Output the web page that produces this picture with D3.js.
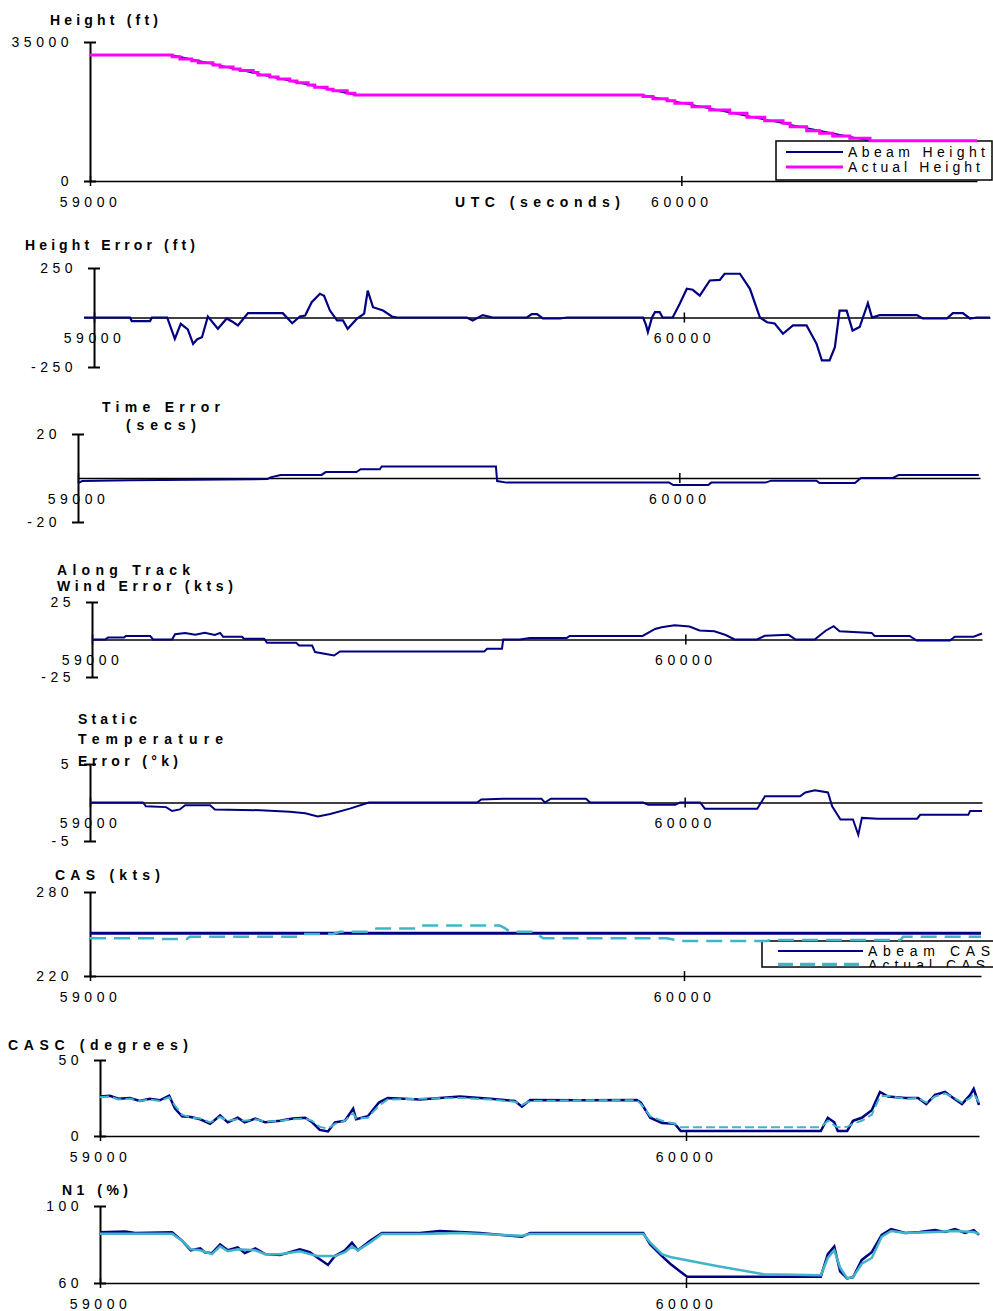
<!DOCTYPE html>
<html>
<head>
<meta charset="utf-8">
<title>Abeam vs Actual - flight trial</title>
<style type="text/css">
    body { margin: 0; background: #fff; }
    svg { display: block; }
    text { font-family: "Liberation Sans", Arial, Helvetica, sans-serif; fill: #000; }
    .tick text { font-size: 14px; letter-spacing: 4.5px; }
    .title { font-size: 14px; font-weight: bold; }
    .legend text { font-size: 14px; }
</style>
</head>
<body>
<script src="https://d3js.org/d3.v7.min.js"></script>
<script type="text/javascript">

var xTicks = [59000, 60000];

// Height (ft)
var heightTime = [59000, 59139, 59152, 59172, 59183, 59208, 59220, 59242, 59254, 59276, 59284, 59304, 59318, 59338, 59350, 59369, 59380, 59401, 59411, 59435, 59448, 59935, 59952, 59976, 59989, 60018, 60048, 60082, 60111, 60141, 60172, 60184, 60212, 60234, 60256, 60285, 60319, 60500];
var actualHeight = [31700, 31300, 30700, 30300, 29800, 29200, 28700, 28200, 27800, 27300, 26700, 26200, 25700, 25200, 24750, 24150, 23600, 23100, 22750, 22100, 21650, 21250, 20700, 20200, 19550, 18700, 17900, 17050, 16050, 15200, 14550, 13650, 12650, 12000, 11350, 10750, 10150, 10150];
var abeamHeightTime = [59000, 59139, 59448, 59935, 60319, 60500];
var abeamHeight = [31700, 31700, 21650, 21650, 10150, 10150];

// Height Error (ft)
var hErrTime = [58983, 59061, 59064, 59095, 59098, 59124, 59137, 59147, 59159, 59168,
    59175, 59183, 59193, 59210, 59225, 59234, 59244, 59261, 59320, 59336,
    59349, 59358, 59369, 59383, 59390, 59400, 59412, 59422, 59430, 59446,
    59458, 59464, 59473, 59490, 59505, 59514, 59632, 59642, 59659, 59676,
    59734, 59742, 59751, 59761, 59790, 59802, 59931, 59936, 59939, 59946,
    59951, 59959, 59964, 59981, 59993, 60005, 60015, 60027, 60044, 60061,
    60069, 60095, 60112, 60129, 60141, 60154, 60168, 60185, 60208, 60225,
    60234, 60247, 60256, 60264, 60276, 60286, 60298, 60312, 60319, 60332,
    60395, 60405, 60446, 60456, 60473, 60485, 60497, 60519];
var heightError = [0, 0, -18, -18, 0, 0, -108, -32, -60, -133,
    -110, -100, 5, -57, -5, -20, -40, 22, 22, -29,
    5, 10, 77, 120, 110, 35, -15, -15, -57, -5,
    20, 136, 52, 35, 5, 0, 0, -15, 12, 0,
    0, 17, 17, -5, -5, 0, 0, -40, -74, 0,
    27, 27, 0, 0, 69, 145, 140, 111, 187, 190,
    221, 221, 145, 0, -24, -30, -82, -40, -40, -133,
    -217, -217, -150, 35, 35, -66, -48, 72, 0, 12,
    12, -5, -5, 22, 22, -5, 0, 0];

// Time Error (secs)
var tErrTime = [59000, 59007, 59087, 59315, 59320, 59337, 59405, 59412, 59463, 59470, 59502, 59505, 59695, 59697, 59713, 59983, 59990, 60048, 60053, 60143, 60153, 60228, 60233, 60292, 60302, 60355, 60365, 60498];
var timeError = [-2.3, -1.4, -1, -0.5, 0.3, 1.4, 1.4, 2.7, 2.7, 4, 4, 5.2, 5.2, -1.4, -2.1, -2.1, -3.2, -3.2, -2.1, -2.1, -1.2, -1.2, -2.3, -2.3, 0, 0, 1.4, 1.4];

// Along Track Wind Error (kts)
var windTime = [59000, 59022, 59027, 59054, 59057, 59098, 59103, 59135, 59140, 59157,
    59174, 59190, 59207, 59216, 59221, 59253, 59256, 59290, 59295, 59344,
    59349, 59371, 59376, 59408, 59418, 59661, 59666, 59691, 59693, 59721,
    59738, 59800, 59805, 59928, 59949, 59960, 59982, 60007, 60024, 60049,
    60068, 60083, 60121, 60134, 60174, 60186, 60218, 60237, 60250, 60260,
    60314, 60319, 60378, 60390, 60446, 60454, 60486, 60500];
var windError = [0, 0, 1.3, 1.3, 2.4, 2.4, 0, 0, 3.5, 4.4,
    3.2, 4.5, 3, 4.4, 1.8, 1.8, 0.5, 0.5, -2.2, -2.2,
    -4, -4, -8.4, -10.7, -8, -8, -6.2, -6.2, 0, 0,
    1, 1, 2.4, 2.4, 7, 8.2, 9.5, 8.7, 6, 5.5,
    3, 0, 0, 2.5, 3.1, 0, 0, 6, 8.9, 5.5,
    4.4, 2.4, 2.4, -0.7, -0.7, 1.8, 1.8, 4];

// Static Temperature Error (K)
var tempTime = [59000, 59089, 59094, 59128, 59138, 59151, 59160, 59202, 59210, 59286,
    59336, 59362, 59383, 59404, 59437, 59469, 59651, 59658, 59695, 59759,
    59765, 59775, 59834, 59841, 59930, 59939, 59984, 59992, 60026, 60034,
    60122, 60135, 60194, 60203, 60219, 60241, 60248, 60262, 60283, 60292,
    60298, 60325, 60391, 60396, 60477, 60480, 60500];
var tempError = [0, 0, -0.5, -0.6, -1.1, -0.9, -0.35, -0.35, -0.9, -1,
    -1.2, -1.4, -1.8, -1.5, -0.8, 0, 0, 0.4, 0.5, 0.5,
    0, 0.5, 0.5, 0, 0, -0.3, -0.3, 0, 0, -0.8,
    -0.8, 0.8, 0.8, 1.3, 1.6, 1.3, -0.5, -2.2, -2.2, -4.2,
    -2, -2.1, -2.1, -1.6, -1.6, -1.1, -1.1];

// CAS (kts)
var abeamCasTime = [59000, 60500];
var abeamCas = [250.5, 250.5];
var casTime = [59000, 59113, 59118, 59163, 59168, 59354, 59359, 59409, 59421, 59466, 59483, 59550, 59556, 59690, 59699, 59707, 59746, 59763, 59971, 59993, 60140, 60145, 60364, 60369, 60500];
var actualCas = [247, 247, 246.4, 246.4, 248, 248, 250, 250, 251.6, 251.6, 254, 254, 256, 256, 254, 251.6, 251.6, 247, 247, 245, 245, 245.7, 245.7, 248, 248];

// CASC (degrees)
var cascTime = [59000, 59017, 59031, 59051, 59068, 59085, 59102, 59118, 59128, 59140,
    59155, 59171, 59188, 59205, 59218, 59235, 59247, 59265, 59282, 59307,
    59329, 59350, 59362, 59375, 59389, 59401, 59418, 59432, 59437, 59457,
    59476, 59491, 59546, 59614, 59666, 59708, 59720, 59734, 59819, 59916,
    59923, 59939, 59959, 59981, 59991, 60230, 60242, 60253, 60259, 60275,
    60285, 60300, 60317, 60331, 60345, 60374, 60396, 60410, 60425, 60442,
    60456, 60471, 60485, 60491, 60500];
var abeamCasc = [26, 26.5, 24.5, 25, 23, 24.5, 23.5, 26.5, 18, 13,
    12.5, 11, 8, 13.5, 9, 12, 9, 11.5, 9, 10,
    11.5, 12, 9, 4, 3, 9, 10, 18, 11, 13,
    22, 25, 24, 26, 24.5, 23, 19.3, 23.7, 23.5, 23.7,
    22, 12, 8.6, 8, 3.3, 3.3, 12, 9, 3.3, 3.3,
    10, 12, 17, 29, 26, 25, 25, 21, 27, 29,
    25, 21, 27, 31, 20.4];
var actualCasc = [25.5, 26, 24, 24.5, 23, 24, 23, 25.5, 20, 14,
    12, 11.5, 9, 12.5, 10, 11, 10, 11, 9.5, 10,
    11, 11.5, 10, 6, 5, 8, 10, 15, 11.5, 12,
    20, 24, 24.5, 25, 24, 22.5, 20.5, 23, 23.5, 23.5,
    21, 13, 10, 8, 5.7, 5.7, 10, 7, 5.7, 6,
    8, 10, 14, 26, 26.5, 24.5, 25, 22, 26, 28,
    25.5, 22, 25, 28, 22];

// N1 (%)
var n1Time = [59000, 59043, 59060, 59123, 59140, 59155, 59171, 59179, 59191, 59205,
    59218, 59235, 59247, 59265, 59282, 59307, 59324, 59341, 59358, 59372,
    59389, 59401, 59418, 59430, 59440, 59461, 59481, 59546, 59580, 59614,
    59648, 59720, 59734, 59853, 59927, 59939, 59959, 59973, 59990, 60002,
    60230, 60242, 60253, 60263, 60275, 60285, 60300, 60317, 60334, 60350,
    60374, 60399, 60425, 60442, 60459, 60476, 60491, 60500];
var abeamN1 = [86.3, 86.8, 86, 86.3, 82, 77, 78, 76, 75.5, 80,
    77, 78.5, 75.5, 78, 75, 74.5, 76, 77.5, 76, 73,
    69.4, 74, 77, 81, 77, 82, 86, 86, 87, 86.5,
    86, 84, 86, 86, 86, 80, 74, 70, 66, 63.3,
    63.3, 75, 79, 66, 62.4, 63, 72, 76, 85, 88,
    86, 86.5, 87.5, 86.5, 88, 86, 87.5, 85];
var actualN1Time = [59000, 59123, 59140, 59155, 59171, 59191, 59205, 59218, 59235, 59265,
    59282, 59307, 59341, 59358, 59372, 59401, 59418, 59430, 59440, 59461,
    59481, 59546, 59614, 59720, 59734, 59927, 59939, 59959, 59973, 60050,
    60133, 60230, 60242, 60253, 60263, 60275, 60285, 60300, 60317, 60334,
    60350, 60374, 60425, 60459, 60491, 60500];
var actualN1 = [85.6, 85.6, 82, 77.5, 77, 75, 79, 76.5, 77.5, 77,
    75, 75, 76.5, 75, 74, 74, 76, 79, 77, 81,
    85.5, 85.5, 86, 84.5, 85.5, 85.5, 81, 75, 73.5, 69,
    64.5, 64, 73, 77, 68, 62.5, 63, 70, 73, 84,
    87, 86, 86.5, 87, 86.5, 85.5];

var navy = "#000080", magenta = "#ff00ff", cyan = "#40b4c8";

function pts(ts, vs) { return ts.map(function(t, i) { return [t, vs[i]]; }); }

var svg = d3.select("body").append("svg")
    .attr("width", 993)
    .attr("height", 1311);

//legends go in first so the plotted lines run over their top edges
function legend(id, box, items) {
    var lg = svg.append("g").attr("class", "legend");
    lg.append("clipPath").attr("id", id)
        .append("rect").attr("x", box[0]).attr("y", box[1]).attr("width", box[2]).attr("height", box[3]);
    lg.append("rect")
        .attr("x", box[0]).attr("y", box[1]).attr("width", box[2]).attr("height", box[3])
        .attr("fill", "#fff").attr("stroke", "#000").attr("stroke-width", 1.5);
    var inner = lg.append("g").attr("clip-path", "url(#" + id + ")");
    items.forEach(function(it) {
        inner.append("line")
            .attr("x1", it.x1).attr("x2", it.x2).attr("y1", it.y).attr("y2", it.y)
            .attr("stroke", it.color).attr("stroke-width", it.width)
            .attr("stroke-dasharray", it.dash || null);
        inner.append("text")
            .attr("x", it.tx).attr("y", it.ty)
            .attr("textLength", it.tl).attr("lengthAdjust", "spacing")
            .text(it.label);
    });
}

legend("clipHeight", [776, 141, 216, 39], [
    { label: "Abeam Height", color: navy, width: 2, x1: 786, x2: 843, y: 152, tx: 848, ty: 157, tl: 137 },
    { label: "Actual Height", color: magenta, width: 3, x1: 786, x2: 843, y: 167, tx: 848, ty: 171.5, tl: 132 }
]);

legend("clipCas", [762, 941, 240, 26], [
    { label: "Abeam CAS", color: navy, width: 2, x1: 778, x2: 863, y: 951, tx: 868, ty: 956, tl: 122 },
    { label: "Actual CAS", color: cyan, width: 3.5, dash: "15,7", x1: 778, x2: 863, y: 964.5, tx: 868, ty: 970, tl: 117 }
]);

var panels = [
    { tDomain: [59000, 60500], xRange: [90, 977], yDomain: [0, 35000], yRange: [181, 42], xAt: 0,
      titles: [["Height (ft)", 50, 25, 108], ["UTC (seconds)", 455, 207, 165]],
      series: [{ data: pts(abeamHeightTime, abeamHeight), color: navy, width: 1.6 },
               { data: pts(heightTime, actualHeight), color: magenta, width: 3, curve: d3.curveStepAfter }] },
    { tDomain: [58983, 60519], xRange: [84, 990], yDomain: [-250, 250], yRange: [367, 268], xAt: 0,
      titles: [["Height Error (ft)", 25, 250, 170]],
      series: [{ data: pts(hErrTime, heightError), color: navy, width: 2.2 }] },
    { tDomain: [59000, 60500], xRange: [78, 980], yDomain: [-20, 20], yRange: [522, 434], xAt: 0,
      titles: [["Time Error", 102, 412, 118], ["(secs)", 126, 430, 70]],
      series: [{ data: pts(tErrTime, timeError), color: navy, width: 2 }] },
    { tDomain: [59000, 60500], xRange: [92, 982], yDomain: [-25, 25], yRange: [677, 602], xAt: 0,
      titles: [["Along Track", 57, 575, 133], ["Wind Error (kts)", 57, 591, 176]],
      series: [{ data: pts(windTime, windError), color: navy, width: 2 }] },
    { tDomain: [59000, 60500], xRange: [90, 982], yDomain: [-5, 5], yRange: [841, 764], xAt: 0,
      titles: [["Static", 78, 724, 59], ["Temperature", 78, 744, 145], ["Error (°k)", 78, 766, 100]],
      series: [{ data: pts(tempTime, tempError), color: navy, width: 2 }] },
    { tDomain: [59000, 60500], xRange: [90, 981], yDomain: [220, 280], yRange: [976, 892], xAt: 220,
      titles: [["CAS (kts)", 55, 880, 105]],
      series: [{ data: pts(abeamCasTime, abeamCas), color: navy, width: 3 },
               { data: pts(casTime, actualCas), color: cyan, width: 2.5, dash: "16,8" }] },
    { tDomain: [59000, 60500], xRange: [100, 979], yDomain: [0, 50], yRange: [1136, 1060], xAt: 0,
      titles: [["CASC (degrees)", 8, 1050, 180]],
      series: [{ data: pts(cascTime, abeamCasc), color: navy, width: 2.5 },
               { data: pts(cascTime, actualCasc), color: cyan, width: 2, dash: "9,4" }] },
    { tDomain: [59000, 60500], xRange: [100, 979], yDomain: [60, 100], yRange: [1283, 1206], xAt: 60,
      titles: [["N1 (%)", 62, 1195, 66]],
      series: [{ data: pts(n1Time, abeamN1), color: navy, width: 2.5 },
               { data: pts(actualN1Time, actualN1), color: cyan, width: 2.5 }] }
];

panels.forEach(function(p) {
    var x = d3.scaleLinear().domain(p.tDomain).range(p.xRange);
    var y = d3.scaleLinear().domain(p.yDomain).range(p.yRange);
    var g = svg.append("g");

    //vertical axis, ticks only at both ends, crossing the axis
    var ya = g.append("g")
        .attr("transform", "translate(" + x(59000) + ",0)")
        .call(d3.axisLeft(y).tickValues(p.yDomain).tickSize(6).tickSizeOuter(0).tickFormat(String));
    ya.select(".domain").attr("stroke-width", 2);
    ya.selectAll(".tick line").attr("x1", -6).attr("x2", 6).attr("stroke-width", 2);
    ya.selectAll(".tick text").attr("x", -17);

    //time axis across the zero line
    var xa = g.append("g")
        .attr("transform", "translate(0," + y(p.xAt) + ")")
        .call(d3.axisBottom(x).tickValues(xTicks).tickSize(5).tickSizeOuter(0).tickFormat(String));
    xa.select(".domain").attr("stroke-width", 1.6);
    xa.selectAll(".tick line").attr("y1", -5).attr("y2", 5).attr("stroke-width", 1.5);
    xa.selectAll(".tick text").attr("y", 16);

    p.series.forEach(function(s) {
        var line = d3.line()
            .x(function(d) { return x(d[0]); })
            .y(function(d) { return y(d[1]); })
            .curve(s.curve || d3.curveLinear);
        g.append("path")
            .datum(s.data)
            .attr("fill", "none")
            .attr("stroke", s.color)
            .attr("stroke-width", s.width)
            .attr("stroke-dasharray", s.dash || null)
            .attr("d", line);
    });

    p.titles.forEach(function(t) {
        svg.append("text")
            .attr("class", "title")
            .attr("x", t[1])
            .attr("y", t[2])
            .attr("textLength", t[3])
            .attr("lengthAdjust", "spacing")
            .text(t[0]);
    });
});

</script>
</body>
</html>
